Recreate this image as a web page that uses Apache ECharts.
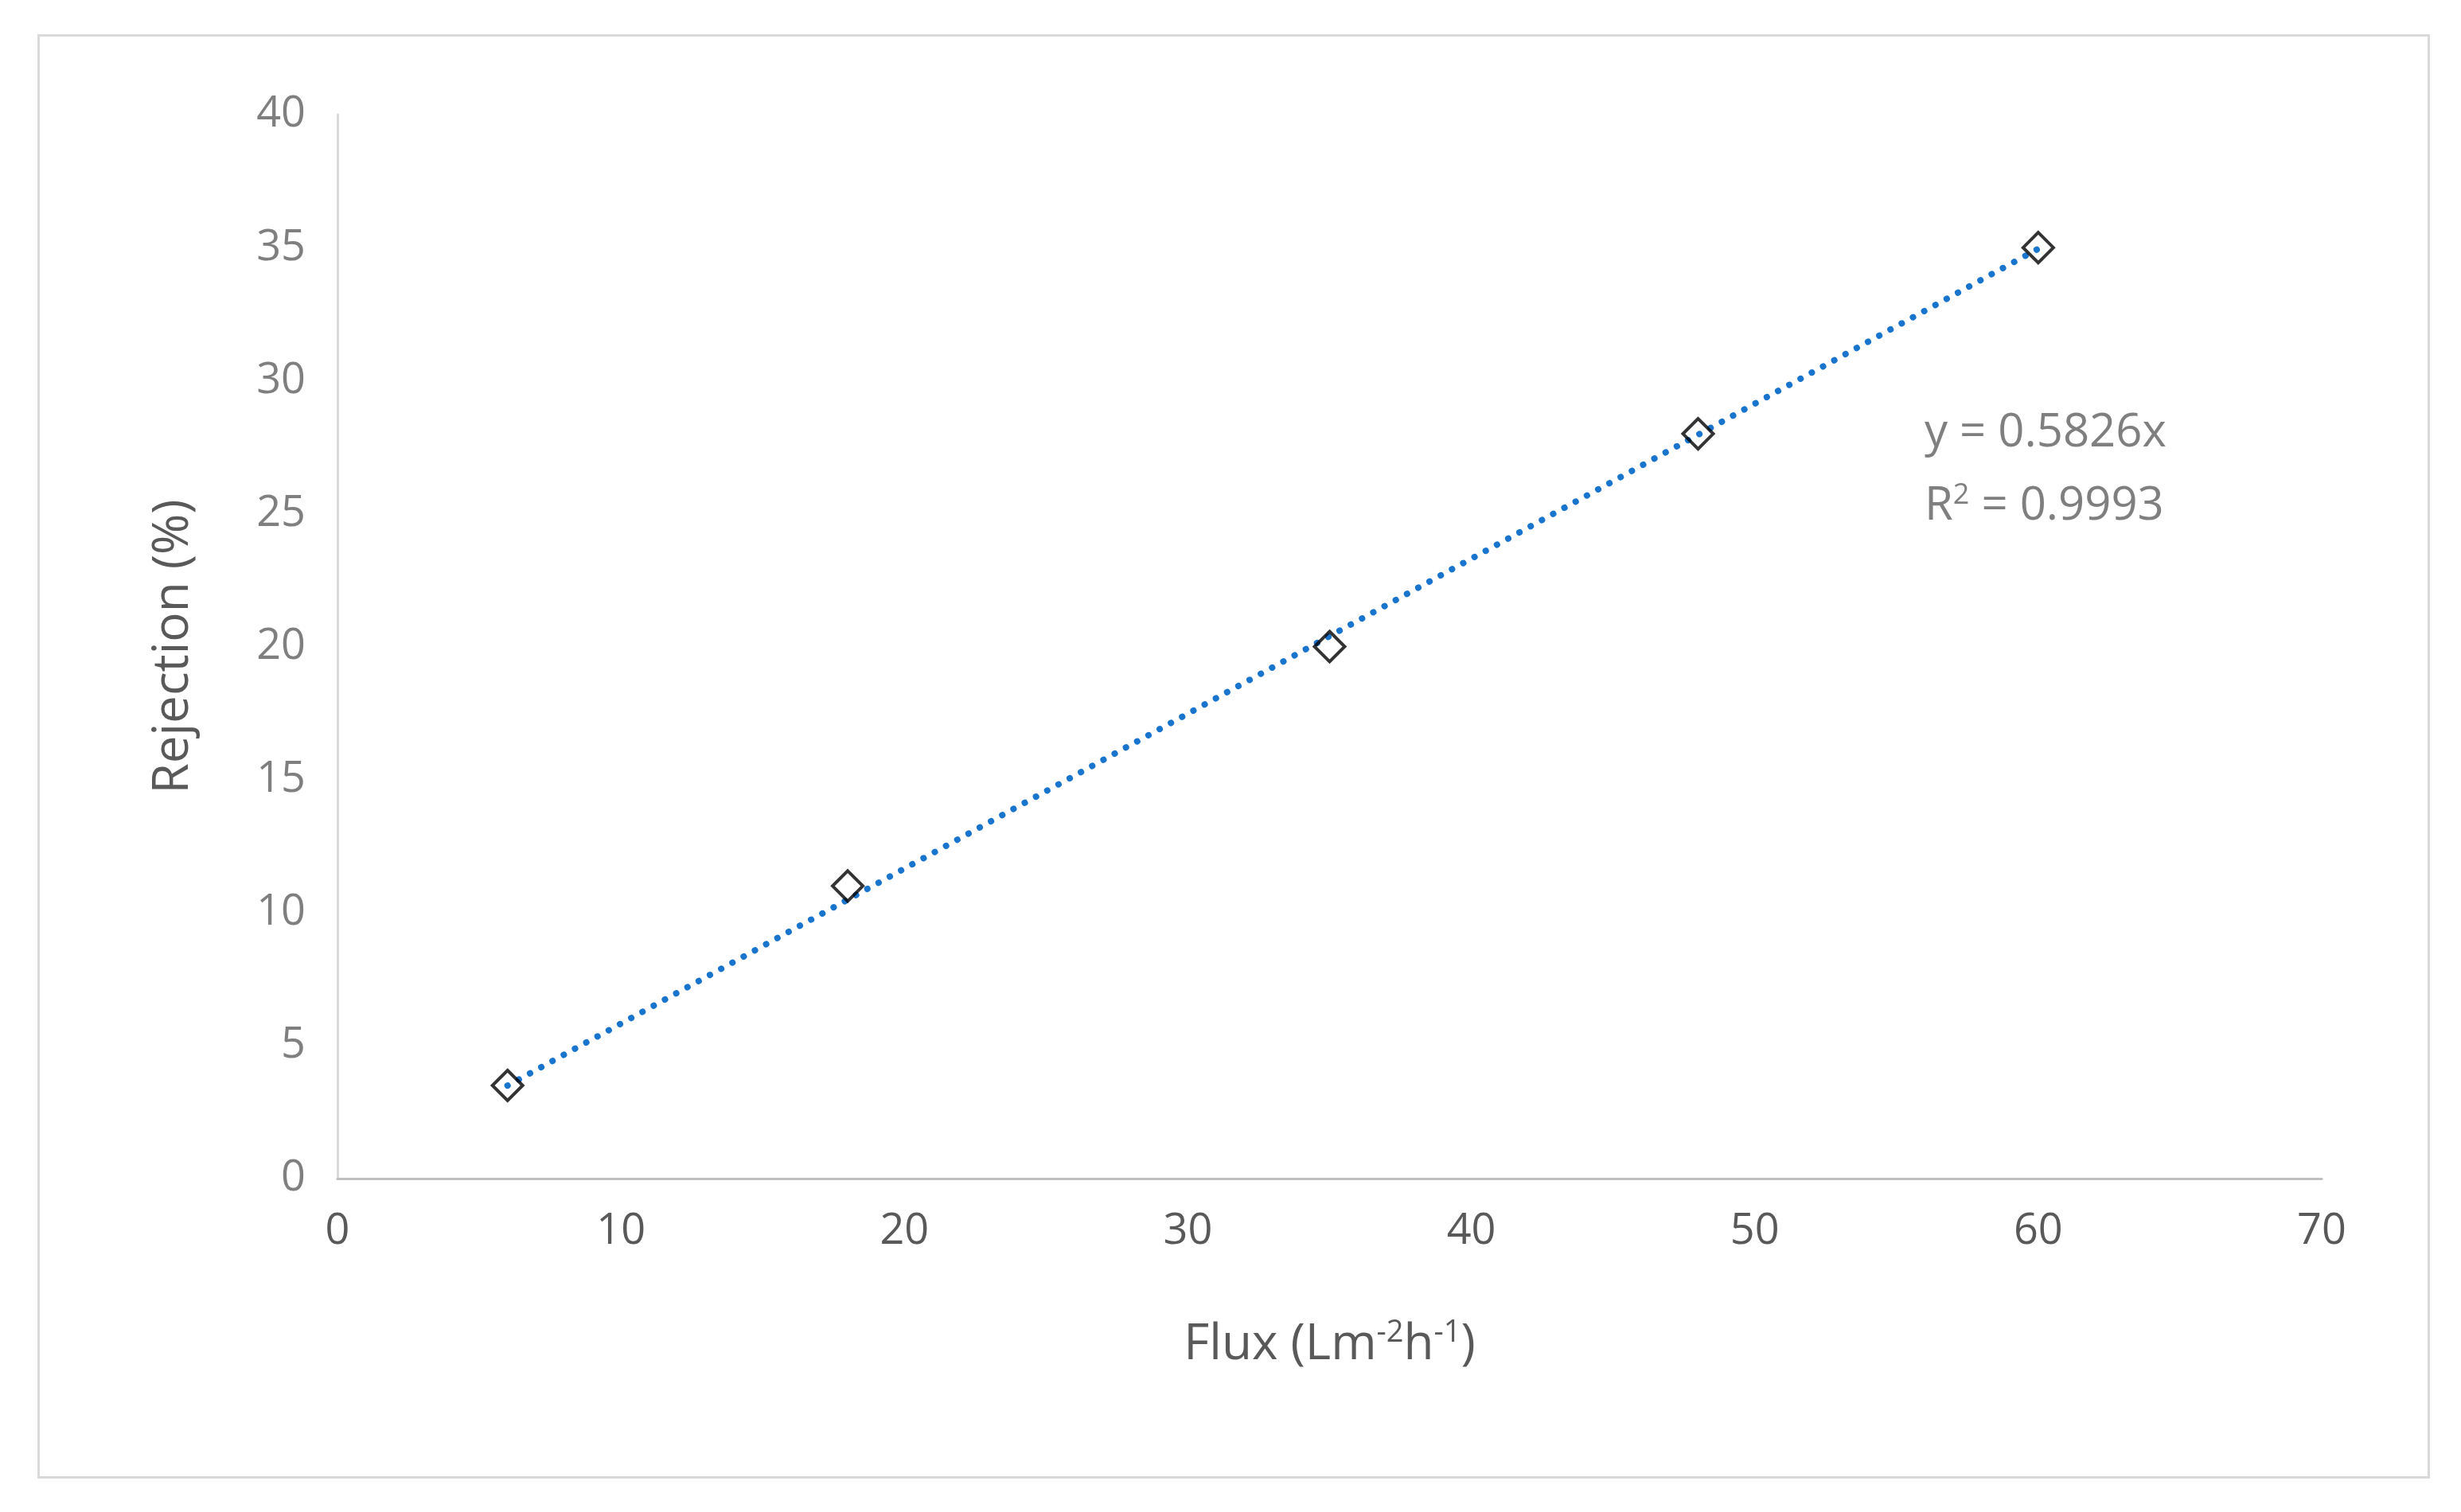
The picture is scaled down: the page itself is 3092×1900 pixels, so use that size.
<!DOCTYPE html>
<html>
<head>
<meta charset="utf-8">
<script src="https://cdn.jsdelivr.net/npm/echarts@6/dist/echarts.min.js"></script>
<style>
html,body{margin:0;padding:0;background:#fff;}
#frame{position:absolute;left:47px;top:43px;width:3000px;height:1809px;border:3px solid #d9d9d9;}
#main{position:absolute;left:0;top:0;width:3092px;height:1900px;}
</style>
</head>
<body>
<div id="frame"></div>
<div id="main"></div>
<script>
var fluxValues = [6, 18, 35, 48, 60];
var rejectionValues = [3.5, 11, 20, 28, 35];
var trendSlope = 0.5826;
var trendRange = [6, 60];
var eqText = 'y = 0.5826x';
var r2Text = '0.9993';

var font = '"Open Sans", "Noto Sans", sans-serif';
var pts = [];
for (var i = 0; i < fluxValues.length; i++) {
    pts.push([fluxValues[i], rejectionValues[i]]);
}
var trend = [];
for (var j = 0; j < trendRange.length; j++) {
    trend.push([trendRange[j], trendSlope * trendRange[j]]);
}

var myChart = echarts.init(document.getElementById('main'));
var option = {
    animation: false,
    grid: {left: 424, right: 3092 - 2917, top: 144, bottom: 1900 - 1481},
    xAxis: {
        type: 'value', min: 0, max: 70, interval: 10,
        name: 'Flux (Lm{s|-2}h{s|-1})',
        nameLocation: 'middle', nameGap: 175,
        nameTextStyle: {
            fontSize: 62, color: '#595959', fontFamily: font,
            rich: {s: {fontSize: 38, color: '#595959', fontFamily: font, verticalAlign: 'top', padding: [0, 0, 30, 0]}}
        },
        axisLine: {lineStyle: {color: '#bfbfbf', width: 3}},
        axisTick: {show: false},
        splitLine: {show: false},
        axisLabel: {fontSize: 54, color: '#595959', fontFamily: font, margin: 40}
    },
    yAxis: {
        type: 'value', min: 0, max: 40, interval: 5,
        name: 'Rejection (%)',
        nameLocation: 'middle', nameGap: 175,
        nameTextStyle: {fontSize: 62, color: '#595959', fontFamily: font},
        axisLine: {show: true, lineStyle: {color: '#d9d9d9', width: 3}},
        axisTick: {show: false},
        splitLine: {show: false},
        axisLabel: {fontSize: 54, color: '#7f7f7f', fontFamily: font, margin: 40}
    },
    series: [
        {
            type: 'line',
            data: trend,
            symbol: 'none',
            lineStyle: {color: '#1874cd', width: 8, type: [0.1, 16], cap: 'round'},
            z: 2
        },
        {
            type: 'scatter',
            data: pts,
            symbol: 'diamond',
            symbolSize: [38, 38],
            itemStyle: {color: 'rgba(0,0,0,0)', borderColor: '#000', borderWidth: 4},
            z: 3
        }
    ],
    graphic: [
        {type: 'text', left: 2418, top: 515, style: {text: eqText, fontSize: 58, fill: '#7f7f7f', fontFamily: font}},
        {type: 'text', left: 2418, top: 605, style: {
            text: 'R{s|2} = ' + r2Text, fontSize: 58, fill: '#7f7f7f', fontFamily: font,
            rich: {s: {fontSize: 36, fill: '#7f7f7f', fontFamily: font, verticalAlign: 'top', padding: [0, 0, 26, 0]}}
        }}
    ]
};
myChart.setOption(option);
</script>
</body>
</html>
